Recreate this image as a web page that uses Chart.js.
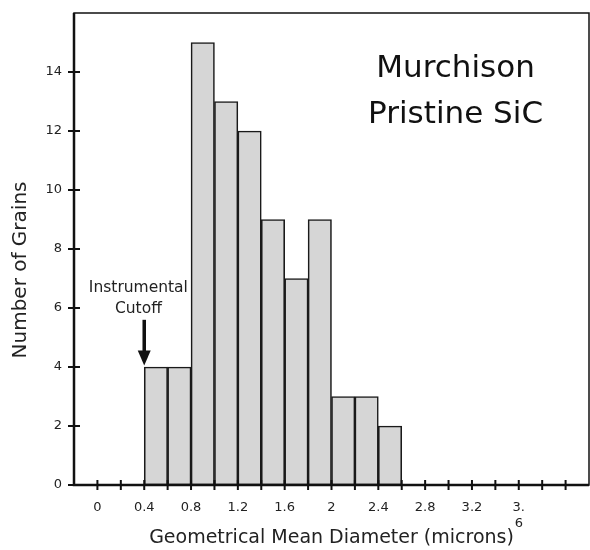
<!DOCTYPE html>
<html>
<head>
<meta charset="utf-8">
<script src="https://cdn.jsdelivr.net/npm/chart.js@4.4.1/dist/chart.umd.min.js"></script>
<style>
  html, body { margin: 0; padding: 0; background: #fff; }
  #wrap { width: 590px; height: 550px; position: relative; }
</style>
</head>
<body>
<div id="wrap"><canvas id="grafico"></canvas></div>
<script>
// bin centres (microns) and grain counts, bins 0.2 wide
const binCenters = [0.5, 0.7, 0.9, 1.1, 1.3, 1.5, 1.7, 1.9, 2.1, 2.3, 2.5];
const grainCounts = [4, 4, 15, 13, 12, 9, 7, 9, 3, 3, 2];

// axis ticks
const xTickValues = [0, 0.4, 0.8, 1.2, 1.6, 2, 2.4, 2.8, 3.2, 3.6];
const xTickLabels = ['0', '0.4', '0.8', '1.2', '1.6', '2', '2.4', '2.8', '3.2', ['3.', '6']];
const xMinorTicks = [0, 0.2, 0.4, 0.6, 0.8, 1, 1.2, 1.4, 1.6, 1.8, 2, 2.2, 2.4, 2.6, 2.8, 3, 3.2, 3.4, 3.6, 3.8, 4];
const yTickValues = [0, 2, 4, 6, 8, 10, 12, 14];

const FONT = "'DejaVu Sans', Verdana, sans-serif";

// moldura, marcas cruzando os eixos e textos
const decor = {
  id: 'decor',
  afterDraw(chart) {
    const { ctx, chartArea: a, scales: { x, y } } = chart;
    ctx.save();
    ctx.strokeStyle = '#111';
    ctx.lineWidth = 1.5;
    ctx.strokeRect(a.left, a.top, a.right - a.left, a.bottom - a.top);
    ctx.lineWidth = 2.5;
    ctx.beginPath();
    ctx.moveTo(a.left, a.top); ctx.lineTo(a.left, a.bottom); ctx.lineTo(a.right, a.bottom);
    ctx.stroke();

    ctx.lineWidth = 2;
    ctx.beginPath();
    xMinorTicks.forEach(v => {
      const px = x.getPixelForValue(v);
      ctx.moveTo(px, a.bottom - 5); ctx.lineTo(px, a.bottom + 5);
    });
    yTickValues.forEach(v => {
      const py = y.getPixelForValue(v);
      ctx.moveTo(a.left - 6, py); ctx.lineTo(a.left + 6, py);
    });
    ctx.stroke();

    // seta do corte instrumental
    const ax = x.getPixelForValue(0.4);
    const y0 = y.getPixelForValue(5.6), y1 = y.getPixelForValue(4.05);
    ctx.lineWidth = 3.5;
    ctx.beginPath(); ctx.moveTo(ax, y0); ctx.lineTo(ax, y1 - 12); ctx.stroke();
    ctx.fillStyle = '#111';
    ctx.beginPath();
    ctx.moveTo(ax - 6.5, y1 - 15); ctx.lineTo(ax + 6.5, y1 - 15); ctx.lineTo(ax, y1);
    ctx.closePath(); ctx.fill();

    ctx.fillStyle = '#222';
    ctx.textAlign = 'center';
    ctx.textBaseline = 'middle';
    ctx.font = '15.5px ' + FONT;
    const tx = x.getPixelForValue(0.35);
    ctx.fillText('Instrumental', tx, y.getPixelForValue(6.68));
    ctx.fillText('Cutoff', tx, y.getPixelForValue(5.97));

    ctx.fillStyle = '#111';
    ctx.font = '31px ' + FONT;
    const mx = x.getPixelForValue(3.06);
    ctx.fillText('Murchison', mx, y.getPixelForValue(14.1));
    ctx.fillText('Pristine SiC', mx, y.getPixelForValue(12.55));

    // título do eixo y
    ctx.fillStyle = '#222';
    ctx.font = '20px ' + FONT;
    ctx.translate(21, 270);
    ctx.rotate(-Math.PI / 2);
    ctx.fillText('Number of Grains', 0, 0);
    ctx.restore();
  }
};

const ctx = document.getElementById('grafico').getContext('2d');
new Chart(ctx, {
  type: 'bar',
  data: {
    datasets: [{
      data: binCenters.map((c, i) => ({ x: c, y: grainCounts[i] })),
      backgroundColor: '#d6d6d6',
      borderColor: '#1a1a1a',
      borderWidth: 1.6,
      borderSkipped: false,
      barPercentage: 1,
      categoryPercentage: 1
    }]
  },
  options: {
    responsive: true,
    maintainAspectRatio: false,
    animation: false,
    layout: { padding: { top: 13, right: 1, left: 0, bottom: 0 } },
    plugins: { legend: { display: false }, tooltip: { enabled: false } },
    scales: {
      x: {
        type: 'linear',
        offset: false,
        min: -0.2,
        max: 4.2,
        grid: { display: false, drawTicks: false, offset: false },
        border: { display: false },
        afterBuildTicks: s => { s.ticks = xTickValues.map(v => ({ value: v })); },
        afterFit: s => { s.height = 65; s.paddingLeft = 0; s.paddingRight = 0; },
        ticks: {
          autoSkip: false,
          maxRotation: 0,
          padding: 15,
          color: '#222',
          font: { family: FONT, size: 13 },
          callback: v => {
            const i = xTickValues.findIndex(t => Math.abs(t - v) < 1e-6);
            return i >= 0 ? xTickLabels[i] : '';
          }
        },
        title: {
          display: true,
          text: 'Geometrical Mean Diameter (microns)',
          color: '#222',
          font: { family: FONT, size: 19 },
          padding: { top: 1, bottom: 1 }
        }
      },
      y: {
        min: 0,
        max: 16,
        grid: { display: false, drawTicks: false },
        border: { display: false },
        afterBuildTicks: s => { s.ticks = yTickValues.map(v => ({ value: v })); },
        afterFit: s => { s.width = 74; s.paddingTop = 0; s.paddingBottom = 0; },
        ticks: {
          padding: 12,
          color: '#222',
          font: { family: FONT, size: 13 }
        }
      }
    }
  },
  plugins: [decor]
});
</script>
</body>
</html>
